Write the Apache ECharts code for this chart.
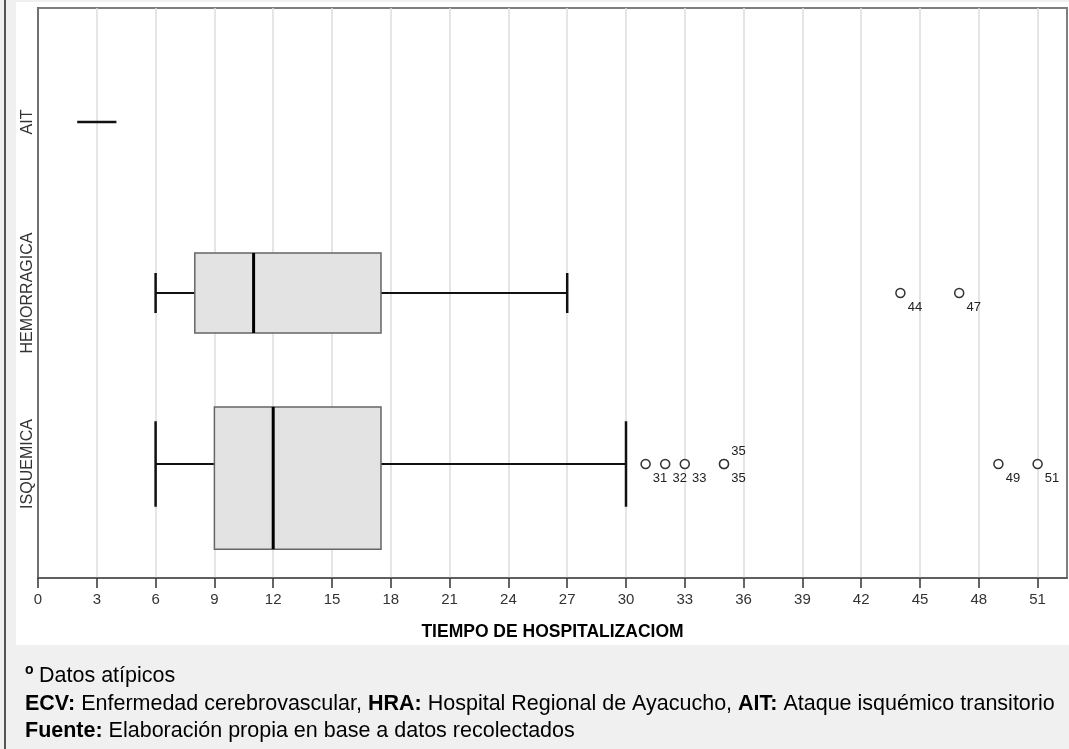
<!DOCTYPE html>
<html>
<head>
<meta charset="utf-8">
<script src="https://cdn.jsdelivr.net/npm/echarts@6/dist/echarts.min.js"></script>
<style>
html,body{margin:0;padding:0;background:#f0f0f0;}
#chart{width:1069px;height:749px;}
</style>
</head>
<body>
<div id="chart"></div>
<script>
// ---- data ----
const categories = ['ISQUEMICA', 'HEMORRAGICA', 'AIT'];
const whiskerLow = [6, 6, 2];
const q1 = [9, 8, 2];
const median = [12, 11, 3];
const q3 = [17.5, 17.5, 4];
const whiskerHigh = [30, 27, 4];
const isqOutliers = [31, 32, 33, 35, 35, 49, 51];
const isqOutlierCases = ['31', '32', '33', '35', '35', '49', '51'];
const hemOutliers = [44, 47];
const hemOutlierCases = ['44', '47'];
const xTicks = [0, 3, 6, 9, 12, 15, 18, 21, 24, 27, 30, 33, 36, 39, 42, 45, 48, 51];

// ---- styles (box geometry as fraction of category spacing) ----
const boxShape = {
  ISQUEMICA: { top: -0.334, bottom: 0.498, cap: 0.25 },
  HEMORRAGICA: { top: -0.234, bottom: 0.234, cap: 0.117 },
  AIT: { top: 0, bottom: 0, cap: 0 }
};

const boxData = categories.map((c, i) => [i, whiskerLow[i], q1[i], median[i], q3[i], whiskerHigh[i]]);

function outlierPoints(vals, cases, catIdx) {
  return vals.map((v, k) => {
    const dup = vals.slice(0, k).indexOf(v) >= 0;
    return {
      value: [v, catIdx],
      label: { formatter: cases[k], offset: dup ? [0, -13] : [0, 14] }
    };
  });
}

const FONT = 'Arial, "Liberation Sans"';
const chart = echarts.init(document.getElementById('chart'));

const option = {
  backgroundColor: '#f0f0f0',
  animation: false,
  graphic: {
    elements: [
      { type: 'rect', z: -10, silent: true, shape: { x: 16, y: 2, width: 1053, height: 643 }, style: { fill: '#ffffff' } },
      { type: 'line', z: -9, silent: true, shape: { x1: 5, y1: 0, x2: 5, y2: 749 }, style: { stroke: '#222', lineWidth: 1.5 } },
      { type: 'text', left: 25, top: 663, style: { text: 'o', font: 'bold 14px ' + FONT, fill: '#000' } },
      { type: 'text', left: 39, top: 665, style: { text: 'Datos atípicos', font: '21.5px ' + FONT, fill: '#000' } },
      { type: 'text', left: 25, top: 693, style: {
          text: '{b|ECV:} Enfermedad cerebrovascular, {b|HRA:} Hospital Regional de Ayacucho, {b|AIT:} Ataque isquémico transitorio',
          font: '21.5px ' + FONT, fill: '#000',
          rich: { b: { fontWeight: 'bold', fontSize: 21.5, fontFamily: FONT, fill: '#000' } }
      } },
      { type: 'text', left: 25, top: 720, style: {
          text: '{b|Fuente:} Elaboración propia en base a datos recolectados',
          font: '21.5px ' + FONT, fill: '#000',
          rich: { b: { fontWeight: 'bold', fontSize: 21.5, fontFamily: FONT, fill: '#000' } }
      } }
    ]
  },
  grid: {
    left: 38, right: 2, top: 8, bottom: 171,
    show: true, backgroundColor: '#ffffff', borderColor: '#7f7f7f', borderWidth: 2
  },
  xAxis: {
    type: 'value', min: 0, max: 52.5, interval: 3,
    name: 'TIEMPO DE HOSPITALIZACIOM', nameLocation: 'middle', nameGap: 45,
    nameTextStyle: { fontFamily: FONT, fontWeight: 'bold', fontSize: 17.5, color: '#000' },
    axisLine: { show: true, onZero: false, lineStyle: { color: '#555', width: 1.5 } },
    axisTick: { show: true, customValues: xTicks, length: 10, lineStyle: { color: '#333', width: 1.5 } },
    axisLabel: { customValues: xTicks, fontFamily: '"Liberation Sans Narrow", "Arial Narrow", Arial', fontSize: 15, color: '#333', margin: 14 },
    splitLine: { show: true, lineStyle: { color: '#dcdcdc', width: 1.5 } }
  },
  yAxis: {
    type: 'value', min: -2 / 3, max: 8 / 3,
    axisLine: { show: true, onZero: false, lineStyle: { color: '#555', width: 1.5 } },
    axisTick: { show: false },
    splitLine: { show: false },
    axisLabel: {
      customValues: [0, 1, 2], rotate: 90, margin: 2,
      formatter: v => categories[Math.round(v)] || '',
      fontFamily: FONT, fontSize: 16, color: '#333'
    }
  },
  series: [
    {
      type: 'custom',
      encode: { x: [1, 2, 3, 4, 5], y: 0 },
      data: boxData,
      z: 3,
      renderItem: function (params, api) {
        const idx = api.value(0);
        const shp = boxShape[categories[idx]];
        const unit = api.size([0, 1])[1];
        const pLo = api.coord([api.value(1), idx]);
        const pQ1 = api.coord([api.value(2), idx]);
        const pMed = api.coord([api.value(3), idx]);
        const pQ3 = api.coord([api.value(4), idx]);
        const pHi = api.coord([api.value(5), idx]);
        const cy = pLo[1];
        const top = cy + shp.top * unit;
        const bottom = cy + shp.bottom * unit;
        const cap = shp.cap * unit;
        const children = [];
        const whisk = { stroke: '#111', lineWidth: 2 };
        if (bottom - top > 1) {
          children.push({ type: 'line', shape: { x1: pLo[0], y1: cy, x2: pQ1[0], y2: cy }, style: whisk });
          children.push({ type: 'line', shape: { x1: pQ3[0], y1: cy, x2: pHi[0], y2: cy }, style: whisk });
          children.push({ type: 'line', shape: { x1: pLo[0], y1: cy - cap, x2: pLo[0], y2: cy + cap }, style: { stroke: '#111', lineWidth: 2.5 } });
          children.push({ type: 'line', shape: { x1: pHi[0], y1: cy - cap, x2: pHi[0], y2: cy + cap }, style: { stroke: '#111', lineWidth: 2.5 } });
          children.push({ type: 'rect', shape: { x: pQ1[0], y: top, width: pQ3[0] - pQ1[0], height: bottom - top },
            style: { fill: '#e3e3e3', stroke: '#666', lineWidth: 1.5 } });
          children.push({ type: 'line', shape: { x1: pMed[0], y1: top, x2: pMed[0], y2: bottom }, style: { stroke: '#000', lineWidth: 3 } });
        } else {
          children.push({ type: 'line', shape: { x1: pLo[0], y1: cy, x2: pHi[0], y2: cy }, style: { stroke: '#111', lineWidth: 2.5 } });
        }
        return { type: 'group', children: children };
      }
    },
    {
      type: 'scatter',
      z: 4,
      symbol: 'circle', symbolSize: 9,
      itemStyle: { color: '#fff', borderColor: '#333', borderWidth: 1.5, opacity: 1 },
      label: { show: true, position: 'right', distance: 2, fontFamily: FONT, fontSize: 13, color: '#222' },
      data: outlierPoints(isqOutliers, isqOutlierCases, 0).concat(outlierPoints(hemOutliers, hemOutlierCases, 1))
    }
  ]
};
chart.setOption(option);
</script>
</body>
</html>
